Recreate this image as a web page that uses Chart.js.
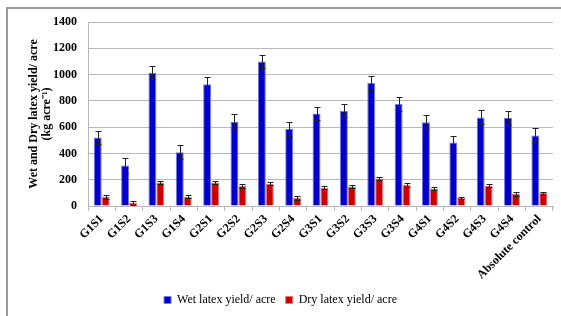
<!DOCTYPE html>
<html>
<head>
<meta charset="utf-8">
<title>Wet and Dry latex yield</title>
<script src="https://cdn.jsdelivr.net/npm/chart.js@4.4.1/dist/chart.umd.min.js"></script>
<style>
    html, body { margin: 0; padding: 0; background: #ffffff; }
    #wrap { position: relative; width: 561px; height: 316px; }
    #frame {
        position: absolute; left: 6px; top: 7px; right: 0; bottom: 0;
        border-left: 2px solid #9a9a9a; border-top: 2px solid #9a9a9a;
        pointer-events: none;
    }
</style>
</head>
<body>
<div id="wrap">
    <canvas id="yieldChart" width="561" height="316"></canvas>
    <div id="frame"></div>
</div>
<script>
// treatments on the x axis
const categories = ['G1S1', 'G1S2', 'G1S3', 'G1S4', 'G2S1', 'G2S2', 'G2S3', 'G2S4',
    'G3S1', 'G3S2', 'G3S3', 'G3S4', 'G4S1', 'G4S2', 'G4S3', 'G4S4', 'Absolute control'];

// kg acre-1
const wetYield = [522, 308, 1014, 409, 926, 641, 1100, 588, 704, 724, 936, 777, 638, 484, 674, 671, 537];
const wetError = [50, 55, 50, 54, 52, 57, 52, 54, 52, 50, 50, 52, 54, 52, 53, 54, 53];
const dryYield = [71, 25, 179, 71, 179, 154, 169, 63, 139, 149, 209, 161, 134, 61, 154, 93, 98];
const dryError = [15, 14, 13, 12, 13, 14, 13, 15, 13, 13, 13, 13, 12, 11, 13, 14, 12];

const yTicks = [0, 200, 400, 600, 800, 1000, 1200, 1400];

document.addEventListener('DOMContentLoaded', () => {

    const serif = "'Liberation Serif', 'Times New Roman', serif";
    const gridGray = '#b8b8b8';

    // simple error bars, drawn through the y scale
    const errorBars = {
        id: 'errorBars',
        afterDatasetsDraw(chart) {
            const ctx = chart.ctx;
            const yScale = chart.scales.y;
            ctx.save();
            ctx.strokeStyle = '#222222';
            ctx.lineWidth = 1;
            chart.data.datasets.forEach((ds, i) => {
                const meta = chart.getDatasetMeta(i);
                meta.data.forEach((bar, j) => {
                    const v = ds.data[j];
                    const e = ds.errors[j];
                    const x = Math.round(bar.x) + 0.5;
                    const yTop = Math.round(yScale.getPixelForValue(v + e)) + 0.5;
                    const yBot = Math.round(yScale.getPixelForValue(v - e)) + 0.5;
                    ctx.beginPath();
                    ctx.moveTo(x, yTop); ctx.lineTo(x, yBot);
                    ctx.moveTo(x - 3, yTop); ctx.lineTo(x + 3, yTop);
                    ctx.moveTo(x - 3, yBot); ctx.lineTo(x + 3, yBot);
                    ctx.stroke();
                });
            });
            ctx.restore();
        }
    };

    new Chart(document.getElementById('yieldChart'), {
        type: 'bar',
        data: {
            labels: categories,
            datasets: [{
                    label: 'Wet latex yield/ acre',
                    data: wetYield,
                    errors: wetError,
                    backgroundColor: '#0000cc',
                    borderColor: '#7676e6',
                    borderWidth: 1,
                    categoryPercentage: 0.58,
                    barPercentage: 1.0
                },
                {
                    label: 'Dry latex yield/ acre',
                    data: dryYield,
                    errors: dryError,
                    backgroundColor: '#cc0000',
                    borderColor: '#e67878',
                    borderWidth: 1,
                    categoryPercentage: 0.58,
                    barPercentage: 1.0
                }
            ]
        },
        options: {
            responsive: false,
            animation: false,
            layout: { padding: { left: 8, right: 8, top: 22, bottom: 0 } },
            plugins: {
                legend: {
                    position: 'bottom',
                    labels: {
                        color: '#000000',
                        boxWidth: 7,
                        boxHeight: 7,
                        padding: 10,
                        font: { family: serif, size: 12 }
                    }
                },
                tooltip: { enabled: false }
            },
            scales: {
                x: {
                    grid: {
                        display: true,
                        drawOnChartArea: false,
                        drawTicks: true,
                        tickLength: 5,
                        color: gridGray
                    },
                    border: { color: gridGray, width: 1 },
                    ticks: {
                        color: '#000000',
                        maxRotation: 45,
                        minRotation: 45,
                        padding: 1,
                        autoSkip: false,
                        font: { family: serif, size: 12, weight: 'bold' }
                    },
                    afterFit: (scale) => { scale.height = 78; }
                },
                y: {
                    min: 0,
                    max: 1400,
                    afterBuildTicks: (scale) => { scale.ticks = yTicks.map(v => ({ value: v })); },
                    grid: { color: gridGray, drawTicks: false, lineWidth: 1 },
                    border: { color: gridGray, width: 1 },
                    ticks: {
                        color: '#000000',
                        padding: 11,
                        callback: (value) => String(value),
                        font: { family: serif, size: 12, weight: 'bold' }
                    },
                    title: {
                        display: true,
                        text: ['Wet and Dry latex yield/ acre', '(kg acre\u207B\u00B9)'],
                        color: '#000000',
                        padding: { top: 20, bottom: 0 },
                        font: { family: serif, size: 12, weight: 'bold', lineHeight: 1.05 }
                    },
                    afterFit: (scale) => { scale.width = 80; }
                }
            }
        },
        plugins: [errorBars]
    });
});
</script>
</body>
</html>
